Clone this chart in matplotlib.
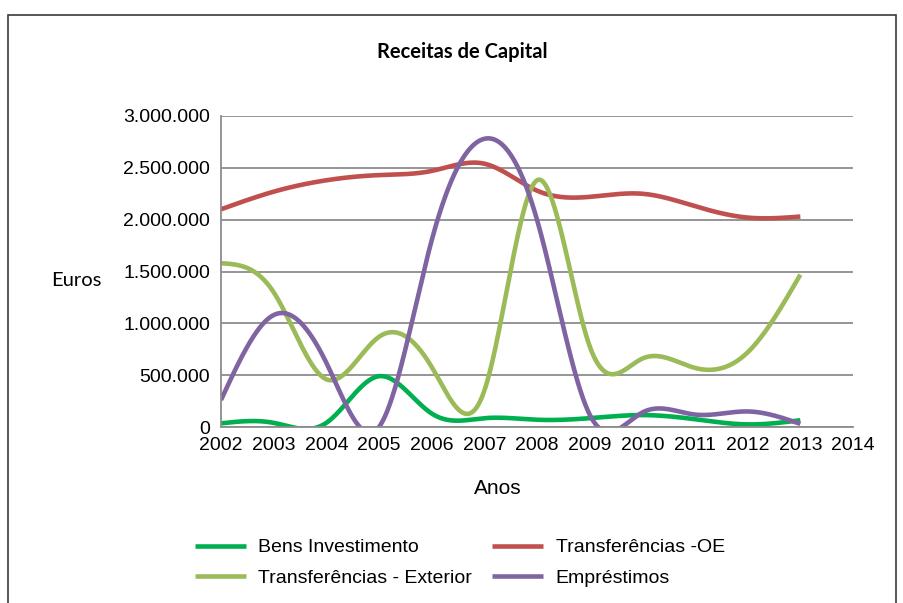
import numpy as np
import matplotlib
matplotlib.use("Agg")
import matplotlib.pyplot as plt
from matplotlib.patches import Rectangle

# ---------------- data ----------------
years = [2002, 2003, 2004, 2005, 2006, 2007, 2008, 2009, 2010, 2011, 2012, 2013]
bens_investimento = [35000, 40000, 40000, 490000, 130000, 85000, 70000, 85000, 115000, 75000, 25000, 65000]
transf_oe = [2100000, 2270000, 2380000, 2430000, 2470000, 2540000, 2280000, 2220000, 2250000, 2130000, 2020000, 2030000]
transf_exterior = [1580000, 1300000, 460000, 870000, 580000, 350000, 2380000, 780000, 660000, 570000, 720000, 1470000]
emprestimos = [260000, 1080000, 620000, 0, 1800000, 2780000, 2000000, 120000, 140000, 120000, 150000, 30000]

series_names = ["Bens Investimento", "Transferências -OE", "Transferências - Exterior", "Empréstimos"]
series_colors = ["#00B050", "#C0504D", "#9BBB59", "#8064A2"]
y_ticks = [0, 500000, 1000000, 1500000, 2000000, 2500000, 3000000]
x_ticks = list(range(2002, 2015))


def natural_spline(x, y, xs):
    x = np.asarray(x, float)
    y = np.asarray(y, float)
    n = len(x)
    h = np.diff(x)
    A = np.zeros((n, n))
    b = np.zeros(n)
    A[0, 0] = 1
    A[-1, -1] = 1
    for i in range(1, n - 1):
        A[i, i - 1] = h[i - 1]
        A[i, i] = 2 * (h[i - 1] + h[i])
        A[i, i + 1] = h[i]
        b[i] = 3 * ((y[i + 1] - y[i]) / h[i] - (y[i] - y[i - 1]) / h[i - 1])
    c = np.linalg.solve(A, b)
    bb = (y[1:] - y[:-1]) / h - h * (2 * c[:-1] + c[1:]) / 3
    d = (c[1:] - c[:-1]) / (3 * h)
    idx = np.clip(np.searchsorted(x, xs, side="right") - 1, 0, n - 2)
    dx = xs - x[idx]
    return y[idx] + bb[idx] * dx + c[idx] * dx ** 2 + d[idx] * dx ** 3


def fmt(v):
    return f"{int(v):,}".replace(",", ".")


W, H = 904, 603
fig = plt.figure(figsize=(W / 100, H / 100), dpi=100)
fig.patch.set_facecolor("white")

# outer chart border
fig.add_artist(Rectangle((8 / W, -0.05), (896 - 8) / W, 1.05 - 15 / H,
                         transform=fig.transFigure, fill=False,
                         edgecolor="#3a3a3a", linewidth=1.2))

L, R, T, B = 221, 853, 116, 427
ax = fig.add_axes([L / W, 1 - B / H, (R - L) / W, (B - T) / H])

xs = np.linspace(years[0], years[-1], 1200)
data = [bens_investimento, transf_oe, transf_exterior, emprestimos]
lines = {}
for name, col, vals in zip(series_names, series_colors, data):
    ys = natural_spline(years, vals, xs)
    ln, = ax.plot(xs, ys, color=col, linewidth=3.3, solid_capstyle="butt", label=name)
    lines[name] = ln

ax.set_xlim(2002, 2014)
ax.set_ylim(0, 3000000)
ax.set_xticks(x_ticks)
ax.set_xticklabels([str(x) for x in x_ticks])
ax.set_yticks(y_ticks)
ax.set_yticklabels([fmt(v) for v in y_ticks])
ax.tick_params(axis="both", length=0, labelsize=14, colors="black")
ax.tick_params(axis="y", pad=8)
ax.tick_params(axis="x", pad=7)
for lab in ax.get_xticklabels() + ax.get_yticklabels():
    lab.set_fontfamily("Liberation Sans")

ax.grid(axis="y", color="#8c8c8c", linewidth=1.3)
ax.set_axisbelow(True)
for s in ["top", "right"]:
    ax.spines[s].set_visible(False)
for s in ["left", "bottom"]:
    ax.spines[s].set_color("#8c8c8c")
    ax.spines[s].set_linewidth(1.3)

fig.text(462 / W, 1 - 52 / H, "Receitas de Capital", ha="center", va="center",
         fontsize=14.5, fontweight="bold", family="Lato")
fig.text(76 / W, 1 - 281 / H, "Euros", ha="center", va="center",
         fontsize=14.5, family="Lato")
fig.text(498 / W, 1 - 488 / H, "Anos", ha="center", va="center",
         fontsize=15, family="Liberation Sans")

order = ["Bens Investimento", "Transferências - Exterior", "Transferências -OE", "Empréstimos"]
leg = fig.legend([lines[n] for n in order], order, loc="center left",
                 bbox_to_anchor=(195 / W, 1 - 563 / H), ncol=2, frameon=False,
                 prop={"family": "Liberation Sans", "size": 14},
                 handlelength=2.6, handletextpad=0.65, columnspacing=1.05,
                 labelspacing=0.68, borderpad=0, borderaxespad=0)
for lh in leg.get_lines():
    lh.set_linewidth(3.3)

fig.savefig("out.png", dpi=100)
